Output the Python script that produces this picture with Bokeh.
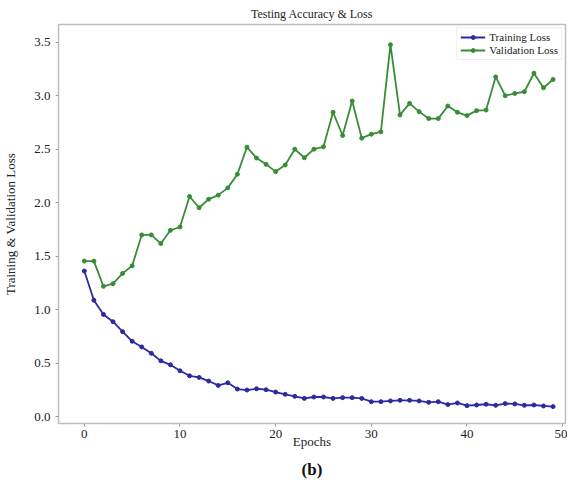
from bokeh.plotting import figure
from bokeh.models import Legend, LegendItem, Range1d, Title, CustomJSTickFormatter
from bokeh.embed import file_html
from bokeh.resources import INLINE

epochs = list(range(50))
training_loss = [1.361, 1.088, 0.955, 0.887, 0.794, 0.704, 0.651, 0.592, 0.521, 0.484,
                 0.428, 0.381, 0.366, 0.332, 0.291, 0.316, 0.257, 0.248, 0.260, 0.251,
                 0.229, 0.208, 0.189, 0.170, 0.183, 0.183, 0.170, 0.177, 0.177, 0.170,
                 0.139, 0.139, 0.146, 0.152, 0.152, 0.146, 0.133, 0.139, 0.112, 0.127,
                 0.102, 0.108, 0.115, 0.105, 0.121, 0.118, 0.105, 0.108, 0.099, 0.093]
validation_loss = [1.454, 1.454, 1.218, 1.243, 1.339, 1.410, 1.699, 1.699, 1.618, 1.742,
                   1.773, 2.058, 1.953, 2.033, 2.071, 2.139, 2.266, 2.520, 2.418, 2.359,
                   2.291, 2.353, 2.501, 2.421, 2.501, 2.523, 2.846, 2.629, 2.951, 2.604,
                   2.641, 2.663, 3.478, 2.821, 2.929, 2.852, 2.787, 2.787, 2.905, 2.846,
                   2.815, 2.861, 2.867, 3.177, 3.001, 3.022, 3.038, 3.211, 3.075, 3.153]
x_ticks = [0, 10, 20, 30, 40, 50]
y_ticks = [0.0, 0.5, 1.0, 1.5, 2.0, 2.5, 3.0, 3.5]

FONT = "Liberation Serif"
TRAIN_C = "#2b2b9e"
VAL_C = "#388c38"

p = figure(width=567, height=484, output_backend="svg", toolbar_location=None,
           x_range=Range1d(-2.7, 50.3), y_range=Range1d(-0.065, 3.667),
           min_border_left=53, min_border_right=2, min_border_top=24, min_border_bottom=61)

p.outline_line_color = "#bdbdbd"
p.outline_line_width = 1.5
p.xgrid.visible = False
p.ygrid.visible = False
p.background_fill_color = "white"
p.border_fill_color = "white"

for ax in (p.xaxis[0], p.yaxis[0]):
    ax.axis_line_color = None
    ax.major_tick_in = 0
    ax.major_tick_out = 3
    ax.major_tick_line_color = "#9a9a9a"
    ax.minor_tick_line_color = None
    ax.major_label_text_font = FONT
    ax.major_label_text_font_size = "13px"
    ax.major_label_text_color = "#222222"
    ax.axis_label_text_font = FONT
    ax.axis_label_text_font_size = "13px"
    ax.axis_label_text_font_style = "normal"
    ax.axis_label_text_color = "#222222"

p.xaxis.ticker = x_ticks
p.yaxis.ticker = y_ticks
p.yaxis.formatter = CustomJSTickFormatter(code="return tick.toFixed(1);")
p.xaxis.major_label_standoff = 3
p.yaxis.major_label_standoff = 5
p.xaxis.axis_label = "Epochs"
p.xaxis.axis_label_standoff = -7
p.yaxis.axis_label = "Training & Validation Loss"
p.yaxis.axis_label_standoff = 13

r1 = p.line(epochs, training_loss, line_color=TRAIN_C, line_width=1.8)
c1 = p.scatter(epochs, training_loss, size=4, fill_color=TRAIN_C, line_color=TRAIN_C)
r2 = p.line(epochs, validation_loss, line_color=VAL_C, line_width=1.8)
c2 = p.scatter(epochs, validation_loss, size=4, fill_color=VAL_C, line_color=VAL_C)

legend = Legend(items=[LegendItem(label="Training Loss", renderers=[r1, c1]),
                       LegendItem(label="Validation Loss", renderers=[r2, c2])],
                location="top_right")
legend.label_text_font = FONT
legend.label_text_font_size = "11px"
legend.label_text_color = "#222222"
legend.glyph_width = 25
legend.glyph_height = 10
legend.label_height = 10
legend.label_standoff = 4
legend.spacing = 1
legend.padding = 3
legend.margin = 3
legend.border_line_color = "#dddddd"
legend.border_line_width = 1
p.add_layout(legend)

top_title = Title(text="Testing Accuracy & Loss", align="center", text_font=FONT,
                  text_font_size="12px", text_font_style="normal", text_color="#222222",
                  standoff=7, offset=0)
p.add_layout(top_title, "above")
sub_title = Title(text="(b)", align="center", text_font=FONT,
                  text_font_size="17px", text_font_style="bold", text_color="#111111",
                  standoff=12)
p.add_layout(sub_title, "below")

open("out.html", "w").write(file_html(p, INLINE))
